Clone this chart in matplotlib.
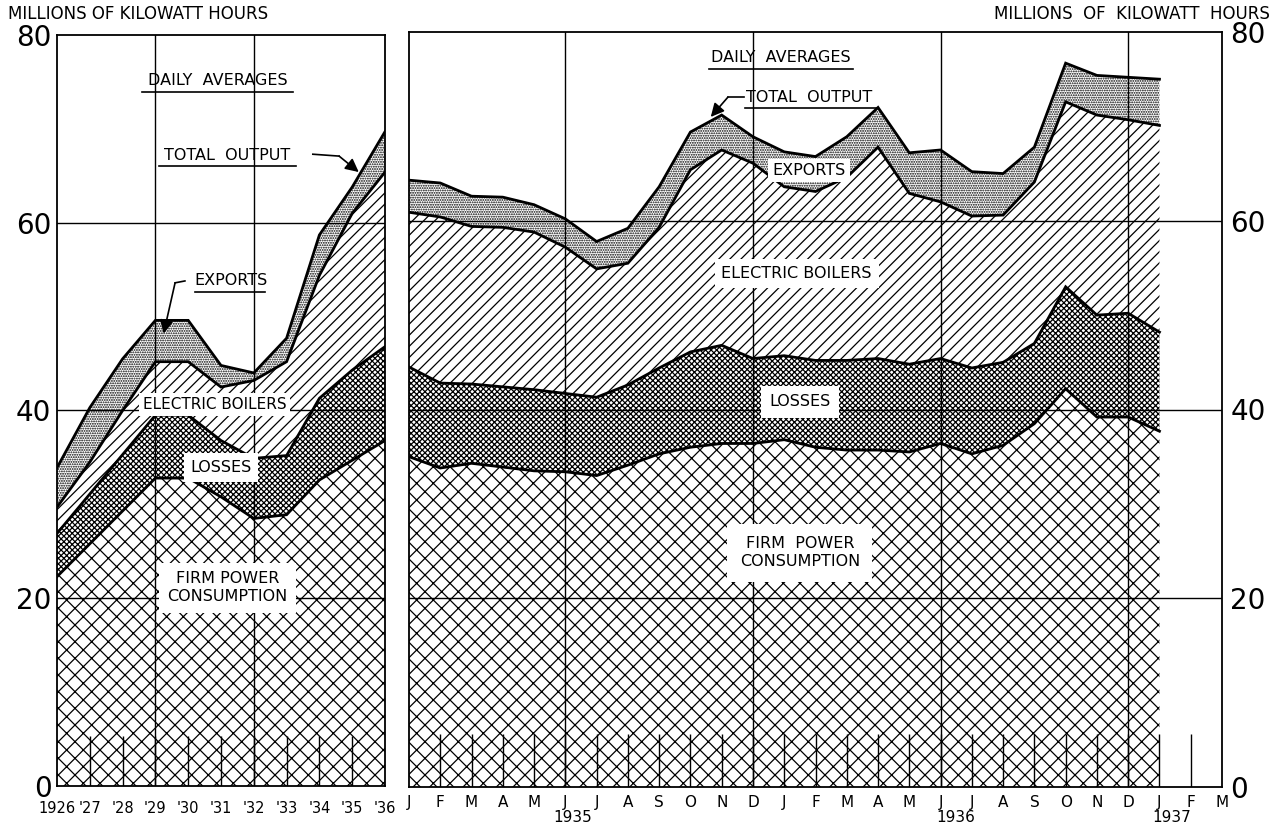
import numpy as np
import matplotlib
matplotlib.use("Agg")
from matplotlib import pyplot as plt
from matplotlib import transforms

plt.rcParams['font.family'] = ['DejaVu Sans']
plt.rcParams['hatch.linewidth'] = 0.9

# ---- annual averages 1926-1936 (left panel) ----
years = [1926, 1927, 1928, 1929, 1930, 1931, 1932, 1933, 1934, 1935, 1936]
year_labels = ["1926", "'27", "'28", "'29", "'30", "'31", "'32", "'33", "'34", "'35", "'36"]
firm_y = [22.3, 25.8, 29.3, 32.8, 32.8, 30.8, 28.5, 28.9, 32.6, 34.7, 36.8]
losses_y = [4.6, 5.3, 6.0, 6.7, 6.7, 6.0, 6.4, 6.3, 8.7, 9.6, 10.0]
boilers_y = [2.8, 3.4, 4.7, 5.7, 5.7, 5.7, 8.3, 10.0, 13.1, 16.7, 18.6]
exports_y = [4.2, 5.8, 5.5, 4.4, 4.4, 2.3, 0.8, 2.5, 4.3, 2.8, 4.3]

# ---- monthly averages Jan 1935 - Jan 1937 (right panel) ----
month_labels = list("JFMAMJJASOND") * 2 + ["J", "F", "M"]
firm_m = [35.0, 33.8, 34.3, 33.9, 33.5, 33.4, 33.0, 34.1, 35.3, 36.0, 36.4, 36.4,
          36.8, 36.0, 35.7, 35.7, 35.5, 36.4, 35.3, 36.2, 38.5, 42.2, 39.2, 39.2, 37.7]
losses_m = [9.5, 9.0, 8.4, 8.5, 8.6, 8.3, 8.3, 8.5, 9.1, 10.1, 10.4, 9.0,
            8.9, 9.2, 9.5, 9.7, 9.3, 9.0, 9.1, 8.8, 8.5, 10.8, 10.8, 11.0, 10.5]
boilers_m = [16.4, 17.6, 16.7, 16.9, 16.7, 15.5, 13.6, 12.9, 14.9, 19.3, 20.7, 20.7,
             17.9, 17.9, 19.4, 22.4, 18.1, 16.6, 16.1, 15.6, 17.1, 19.6, 21.2, 20.5, 21.9]
exports_m = [3.4, 3.6, 3.2, 3.2, 2.9, 3.0, 2.9, 3.7, 4.3, 4.0, 3.7, 2.8,
             3.7, 3.7, 4.3, 4.2, 4.3, 5.5, 4.7, 4.4, 3.7, 4.1, 4.2, 4.5, 4.9]

# firm, losses, boilers, exports
hatches = ['xx', 'xxxxxx', '///', '.......']
lw_edge = 2.0


def draw_stack(ax, x, parts):
    tops = np.cumsum(np.array(parts), axis=0)
    base = np.zeros(len(x))
    for top, h in zip(tops, hatches):
        ax.fill_between(x, base, top, facecolor='white', edgecolor='black',
                        hatch=h, linewidth=0, zorder=1)
        base = top
    for top in tops:
        ax.plot(x, top, color='black', lw=lw_edge, zorder=4, solid_joinstyle='miter')


def label(ax, x, y, s, box=True, size=11.5, pad=4):
    kw = dict(ha='center', va='center', fontsize=size, zorder=6, linespacing=1.25)
    if box:
        kw['bbox'] = dict(facecolor='white', edgecolor='none', pad=pad)
    return ax.text(x, y, s, **kw)


def pointer(ax, pts, tip):
    xs = [p[0] for p in pts]
    ys = [p[1] for p in pts]
    ax.plot(xs, ys, color='black', lw=1.2, zorder=6)
    ax.annotate("", xy=tip, xytext=pts[-1], zorder=6,
                arrowprops=dict(arrowstyle='-|>', color='black', lw=1.2,
                                mutation_scale=20, shrinkA=0, shrinkB=0))


fig = plt.figure(figsize=(12.77, 8.23), dpi=100)
ax1 = fig.add_axes([57 / 1277, 37 / 823, 328 / 1277, 751 / 823])
ax2 = fig.add_axes([409 / 1277, 36 / 823, 813 / 1277, 755 / 823])

# left panel
draw_stack(ax1, years, [firm_y, losses_y, boilers_y, exports_y])
ax1.set_xlim(1926, 1936)
ax1.set_ylim(0, 80)
for g in (20, 40, 60):
    ax1.axhline(g, color='black', lw=1, zorder=2)
for g in (1929, 1932):
    ax1.axvline(g, color='black', lw=1, zorder=2)
ax1.vlines(years[1:-1], 0, 5.3, color='black', lw=1, zorder=2)
ax1.set_xticks(years)
ax1.set_xticklabels(year_labels)
ax1.set_yticks([0, 20, 40, 60, 80])
ax1.tick_params(axis='y', labelsize=20, length=0, pad=4)
ax1.tick_params(axis='x', labelsize=10.5, length=0, pad=11)
ax1.get_xticklabels()[0].set_x(1926.25)

label(ax1, 1930.9, 75.1, "DAILY  AVERAGES", box=False)
label(ax1, 1931.2, 67.2, "TOTAL  OUTPUT", box=False)
label(ax1, 1931.3, 53.8, "EXPORTS", box=False)
label(ax1, 1930.8, 40.6, "ELECTRIC BOILERS", size=11, pad=3)
label(ax1, 1931.0, 33.9, "LOSSES", pad=5)
label(ax1, 1931.2, 21.1, "FIRM POWER\nCONSUMPTION", pad=6)
# underlines and pointers
ax1.plot([1928.6, 1933.2], [73.9, 73.9], color='black', lw=1.2, zorder=6)
ax1.plot([1929.1, 1933.3], [66.0, 66.0], color='black', lw=1.2, zorder=6)
ax1.plot([1930.2, 1932.35], [52.6, 52.6], color='black', lw=1.2, zorder=6)
pointer(ax1, [(1933.8, 67.3), (1934.6, 67.1)], (1935.2, 65.4))
pointer(ax1, [(1929.9, 53.8), (1929.6, 53.6)], (1929.25, 48.2))

# right panel
xm = np.arange(len(firm_m))
draw_stack(ax2, xm, [firm_m, losses_m, boilers_m, exports_m])
ax2.set_xlim(0, 26)
ax2.set_ylim(0, 80)
for g in (20, 40, 60):
    ax2.axhline(g, color='black', lw=1, zorder=2)
for g in (5, 11, 17, 23):
    ax2.axvline(g, color='black', lw=1, zorder=2)
ax2.vlines(np.arange(1, 26), 0, 5.6, color='black', lw=1, zorder=2)
ax2.set_xticks(np.arange(27))
ax2.set_xticklabels(month_labels)
ax2.yaxis.tick_right()
ax2.set_yticks([0, 20, 40, 60, 80])
ax2.tick_params(axis='y', labelsize=20, length=0, pad=6)
ax2.tick_params(axis='x', labelsize=11, length=0, pad=6)
trans = transforms.blended_transform_factory(ax2.transData, ax2.transAxes)
for xx, yr in [(5.25, "1935"), (17.5, "1936"), (24.4, "1937")]:
    ax2.text(xx, -0.041, yr, transform=trans, ha='center', va='center', fontsize=11)

label(ax2, 11.9, 77.3, "DAILY  AVERAGES", box=False)
label(ax2, 12.8, 73.1, "TOTAL  OUTPUT", box=False)
label(ax2, 12.8, 65.3, "EXPORTS", pad=3)
label(ax2, 12.4, 54.4, "ELECTRIC BOILERS", pad=5)
label(ax2, 12.5, 40.8, "LOSSES", pad=6)
label(ax2, 12.5, 24.8, "FIRM  POWER\nCONSUMPTION", pad=9)
ax2.plot([9.6, 14.2], [76.1, 76.1], color='black', lw=1.2, zorder=6)
ax2.plot([10.75, 15.0], [71.9, 71.9], color='black', lw=1.2, zorder=6)
pointer(ax2, [(10.7, 73.1), (10.2, 73.1)], (9.65, 71.0))

for ax in (ax1, ax2):
    for sp in ax.spines.values():
        sp.set_linewidth(1.3)
        sp.set_zorder(5)

fig.text(8 / 1277, 1 - 14 / 823, "MILLIONS OF KILOWATT HOURS", ha='left', va='center', fontsize=12)
fig.text(1270 / 1277, 1 - 14 / 823, "MILLIONS  OF  KILOWATT  HOURS", ha='right', va='center', fontsize=12)

fig.savefig("out.png", dpi=100)
